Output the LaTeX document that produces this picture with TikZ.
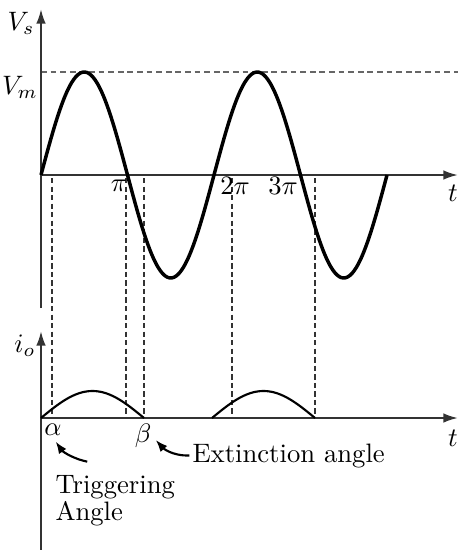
\documentclass[tikz,border=0pt]{standalone}
\usepackage{amsmath,amssymb}
\usepackage{tikz}
\usetikzlibrary{arrows.meta}

\begin{document}
\begin{tikzpicture}[x=0.375pt, y=-0.375pt,
      axis/.style={line width=0.8pt, color=black!80, -{Latex[length=5.5pt,width=3.6pt]}},
      wave/.style={line width=1.3pt, line join=round},
      hump/.style={line width=0.8pt},
      guide/.style={dash pattern=on 2pt off 1.2pt, line width=0.4pt, color=black!80},
      peak/.style={dash pattern=on 2.2pt off 1.4pt, line width=0.5pt, color=black!60},
      lbl/.style={inner sep=0pt},
      arr/.style={-{Latex[length=4.5pt,width=3.4pt]}, line width=0.8pt}
  ]
    \useasboundingbox (0,0) rectangle (458,550);
    \coordinate (vbot) at (41,308); \coordinate (vtop) at (41,9);
    \coordinate (o1) at (41,175);   \coordinate (t1) at (458,175);
    \coordinate (ibot) at (41,550); \coordinate (itop) at (41,331);
    \coordinate (o2) at (41,418);   \coordinate (t2) at (458,418);
    % guides
    \draw[peak] (41,72) -- (458,72);
    \foreach \x in {52,126,144,232,315} \draw[guide] (\x,178) -- (\x,418);
    % axes
    \draw[axis] (vbot) -- (vtop); \draw[axis] (o1) -- (t1);
    \draw[axis] (ibot) -- (itop); \draw[axis] (o2) -- (t2);
    % supply voltage and load current
    \draw[wave] plot[domain=0:346, samples=160, smooth] ({\x+41}, {175-103*sin(\x/173*360)});
    \draw[hump] plot[domain=41:144, samples=50, smooth] (\x, {418-27*sin((\x-41)/103*180)});
    \draw[hump] plot[domain=212:315, samples=50, smooth] (\x, {418-27*sin((\x-212)/103*180)});
    % labels
    \node[lbl] (vs) at (21,23) {$V_s$};
    \node[lbl] (vm) at (20,87) {$V_m$};
    \node[lbl] (io) at (25,346) {$i_o$};
    \node[lbl] (pi1) at (119,186) {$\pi$};
    \node[lbl] (pi2) at (235,186) {$2\pi$};
    \node[lbl] (pi3) at (283,186) {$3\pi$};
    \node[lbl] (tv) at (453,193) {$t$};
    \node[lbl] (ti) at (453,438) {$t$};
    \node[lbl] (alpha) at (53,430) {$\alpha$};
    \node[lbl] (beta) at (143,436) {$\beta$};
    \node[lbl, anchor=base west] (ext) at (192,462) {Extinction angle};
    \node[lbl, anchor=north west, align=left, font=\fontsize{10}{8.7}\selectfont] (trig) at (55,475) {Triggering\\Angle};
    \draw[arr] ([xshift=-1pt]ext.west) .. controls (172,456) and (163,448) .. ([xshift=1.5pt, yshift=-1.5pt]beta.east);
    \draw[arr] ([xshift=-10.5pt, yshift=5pt]trig.north) .. controls (74,459) and (63,452) .. ([xshift=1pt, yshift=-2pt]alpha.south);
\end{tikzpicture}
\end{document}
